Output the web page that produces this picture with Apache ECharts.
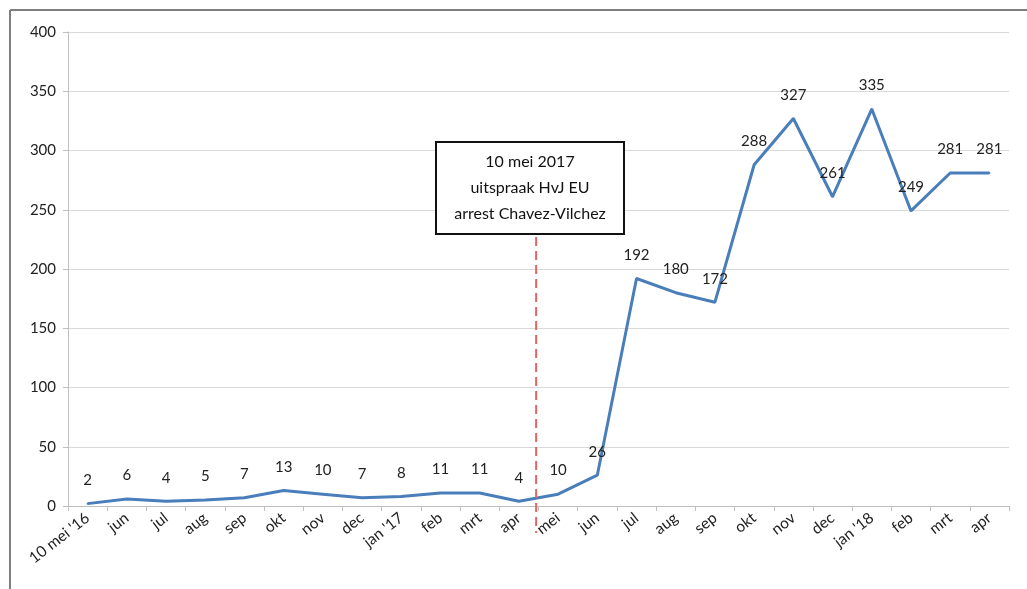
<!DOCTYPE html>
<html>
<head>
<meta charset="utf-8">
<script src="https://cdn.jsdelivr.net/npm/echarts@6/dist/echarts.min.js"></script>
<style>
html,body{margin:0;padding:0;background:#fff;}
#chart{width:1027px;height:589px;}
</style>
</head>
<body>
<div id="chart"></div>
<script>
var categories = ["10 mei '16","jun","jul","aug","sep","okt","nov","dec","jan '17","feb","mrt","apr","mei","jun","jul","aug","sep","okt","nov","dec","jan '18","feb","mrt","apr"];
var values = [2,6,4,5,7,13,10,7,8,11,11,4,10,26,192,180,172,288,327,261,335,249,281,281];
var yTicks = [0,50,100,150,200,250,300,350,400];
var eventPosition = 11.44; // 10 mei 2017, between apr and mei (category index)
var eventLines = ["10 mei 2017","uitspraak HvJ EU","arrest Chavez-Vilchez"];

var FONT = 'Lato, "Open Sans", sans-serif';
var chart = echarts.init(document.getElementById('chart'));
chart.setOption({
  animation: false,
  backgroundColor: '#fff',
  grid: {left: 68, right: 18, top: 32, bottom: 83},
  xAxis: {
    type: 'category',
    data: categories,
    boundaryGap: true,
    axisLine: {lineStyle: {color: '#bfbfbf', width: 1}},
    axisTick: {show: true, length: 5, lineStyle: {color: '#bfbfbf'}},
    axisLabel: {rotate: 38, fontSize: 15.5, color: '#222', fontFamily: FONT, margin: 10, interval: 0}
  },
  yAxis: {
    type: 'value',
    min: yTicks[0], max: yTicks[yTicks.length-1], interval: yTicks[1]-yTicks[0],
    axisLine: {show: true, lineStyle: {color: '#bfbfbf'}},
    axisTick: {show: true, length: 5, lineStyle: {color: '#bfbfbf'}},
    splitLine: {lineStyle: {color: '#d9d9d9'}},
    axisLabel: {fontSize: 15, color: '#222', fontFamily: FONT, margin: 12}
  },
  series: [{
    type: 'line',
    data: values,
    symbol: 'circle',
    symbolSize: 2,
    showSymbol: true,
    itemStyle: {color: '#4a7ebb'},
    lineStyle: {color: '#4a7ebb', width: 3},
    label: {show: true, position: 'top', distance: 15, fontSize: 15, color: '#222', fontFamily: FONT},
    labelLayout: {hideOverlap: false}
  }]
});

// annotation: dashed vertical line at the event date + text box
var i0 = Math.floor(eventPosition), f = eventPosition - i0;
var xa = chart.convertToPixel({xAxisIndex: 0}, i0);
var xb = chart.convertToPixel({xAxisIndex: 0}, i0 + 1);
var xe = xa + (xb - xa) * f;
var yTop = chart.convertToPixel({yAxisIndex: 0}, 227);
var yBot = chart.convertToPixel({yAxisIndex: 0}, 0) + 27;

chart.setOption({
  graphic: [
    {type: 'line', z: 100, shape: {x1: 10, y1: 10, x2: 1027, y2: 10}, style: {stroke: '#7f7f7f', lineWidth: 2}},
    {type: 'line', z: 100, shape: {x1: 10, y1: 10, x2: 10, y2: 589}, style: {stroke: '#7f7f7f', lineWidth: 2}},
    {type: 'line', z: 100, shape: {x1: xe, y1: yTop, x2: xe, y2: yBot}, style: {stroke: '#e06666', lineWidth: 2, lineDash: [9, 5]}},
    {type: 'rect', z: 100, shape: {x: 436, y: 142, width: 188, height: 92}, style: {fill: '#fff', stroke: '#111', lineWidth: 2}},
    {type: 'text', z: 101, x: 530, y: 188, style: {text: eventLines.join('\n'), fill: '#111', font: '16px ' + FONT, textAlign: 'center', textVerticalAlign: 'middle', lineHeight: 26}}
  ]
});
</script>
</body>
</html>
